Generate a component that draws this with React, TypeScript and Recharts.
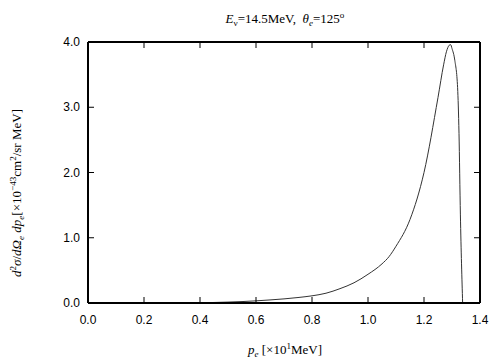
import { LineChart, Line, XAxis, YAxis } from "recharts";

// electron momentum p_e [x10 MeV]
const pe = [
  0.4, 0.45, 0.5, 0.55, 0.6, 0.65, 0.7, 0.75, 0.8, 0.85, 0.9, 0.95, 1.0, 1.05, 1.075, 1.1, 1.15,
  1.2, 1.25, 1.27, 1.28, 1.29, 1.295, 1.3, 1.31, 1.32, 1.325, 1.33, 1.338,
];
// d2sigma / dOmega dp [x10^-43 cm2/sr MeV]
const xsec = [
  0.003, 0.008, 0.014, 0.022, 0.033, 0.047, 0.063, 0.084, 0.11, 0.15, 0.22, 0.31, 0.44, 0.6, 0.71,
  0.87, 1.28, 2.0, 3.15, 3.65, 3.85, 3.95, 3.96, 3.9, 3.72, 3.3, 2.6, 1.35, 0,
];
const xTicks = [0, 0.2, 0.4, 0.6, 0.8, 1.0, 1.2, 1.4];
const yTicks = [0, 1, 2, 3, 4];

const data = pe.map((p, i) => ({ p, v: xsec[i] }));

const W = 504;
const H = 360;
const TICK_FONT = { fontFamily: "'Liberation Sans', Arial, sans-serif", fontSize: 12, fill: "#000" };
const FRAME = { stroke: "#000", strokeWidth: 2 };

function BottomTick({ x, y, payload }: any) {
  return (
    <g>
      <line x1={x} y1={y} x2={x} y2={y - 6} stroke="#000" />
      <text x={x} y={y + 21} textAnchor="middle" {...TICK_FONT}>
        {Number(payload.value).toFixed(1)}
      </text>
    </g>
  );
}

function LeftTick({ x, y, payload }: any) {
  return (
    <g>
      <line x1={x} y1={y} x2={x + 6} y2={y} stroke="#000" />
      <text x={x - 8} y={y + 4} textAnchor="end" {...TICK_FONT}>
        {Number(payload.value).toFixed(1)}
      </text>
    </g>
  );
}

const TopTick = ({ x, y }: any) => <line x1={x} y1={y} x2={x} y2={y + 6} stroke="#000" />;
const RightTick = ({ x, y }: any) => <line x1={x} y1={y} x2={x - 6} y2={y} stroke="#000" />;

const serif = "'Liberation Serif', 'Times New Roman', serif";
const sub = { fontSize: "0.7em", position: "relative" as const, top: "0.3em" };
const sup = { fontSize: "0.7em", position: "relative" as const, top: "-0.5em" };

export default function App() {
  return (
    <div style={{ position: "absolute", left: 0, top: 0, width: W, height: H, background: "#fff" }}>
      <LineChart width={W} height={H} data={data} margin={{ top: 41, right: 23, bottom: 0, left: 0 }}>
        <XAxis
          dataKey="p"
          type="number"
          domain={[0, 1.4]}
          ticks={xTicks}
          height={57}
          tickSize={0}
          tickMargin={0}
          tickLine={false}
          axisLine={FRAME}
          tick={<BottomTick />}
        />
        <XAxis
          xAxisId="top"
          dataKey="p"
          orientation="top"
          type="number"
          domain={[0, 1.4]}
          ticks={xTicks}
          height={1}
          tickSize={0}
          tickMargin={0}
          tickLine={false}
          axisLine={FRAME}
          tick={<TopTick />}
        />
        <YAxis
          type="number"
          domain={[0, 4]}
          ticks={yTicks}
          width={88}
          tickSize={0}
          tickMargin={0}
          tickLine={false}
          axisLine={FRAME}
          tick={<LeftTick />}
        />
        <YAxis
          yAxisId="right"
          orientation="right"
          type="number"
          domain={[0, 4]}
          ticks={yTicks}
          width={1}
          tickSize={0}
          tickMargin={0}
          tickLine={false}
          axisLine={FRAME}
          tick={<RightTick />}
        />
        {/* invisible twin so the top / right frame axes are drawn */}
        <Line
          xAxisId="top"
          yAxisId="right"
          dataKey="v"
          stroke="none"
          dot={false}
          activeDot={false}
          isAnimationActive={false}
        />
        <Line
          type="monotone"
          dataKey="v"
          stroke="#333"
          strokeWidth={1}
          dot={false}
          isAnimationActive={false}
        />
      </LineChart>

      <div
        style={{
          position: "absolute",
          left: 285,
          top: 19,
          transform: "translate(-50%, -50%)",
          fontFamily: serif,
          fontSize: 13,
          whiteSpace: "nowrap",
          lineHeight: 1,
        }}
      >
        <i>E</i>
        <span style={sub}>ν</span>=14.5MeV,&nbsp; <i>θ</i>
        <i style={sub}>e</i>=125<span style={sup}>o</span>
      </div>

      <div
        style={{
          position: "absolute",
          left: 285,
          top: 350,
          transform: "translate(-50%, -50%)",
          fontFamily: serif,
          fontSize: 13,
          whiteSpace: "nowrap",
          lineHeight: 1,
        }}
      >
        <i>p</i>
        <i style={sub}>e</i> [×10<span style={sup}>1</span>MeV]
      </div>

      <div
        style={{
          position: "absolute",
          left: 17,
          top: 193,
          transform: "translate(-50%, -50%) rotate(-90deg)",
          fontFamily: serif,
          fontSize: 13,
          whiteSpace: "nowrap",
          lineHeight: 1,
        }}
      >
        <i>d</i>
        <span style={sup}>2</span>
        <i>σ</i>/<i>d</i>
        <i>Ω</i>
        <i style={sub}>e</i> <i>dp</i>
        <i style={sub}>e</i>[×10<span style={sup}>−43</span>cm<span style={sup}>2</span>/sr MeV]
      </div>
    </div>
  );
}
